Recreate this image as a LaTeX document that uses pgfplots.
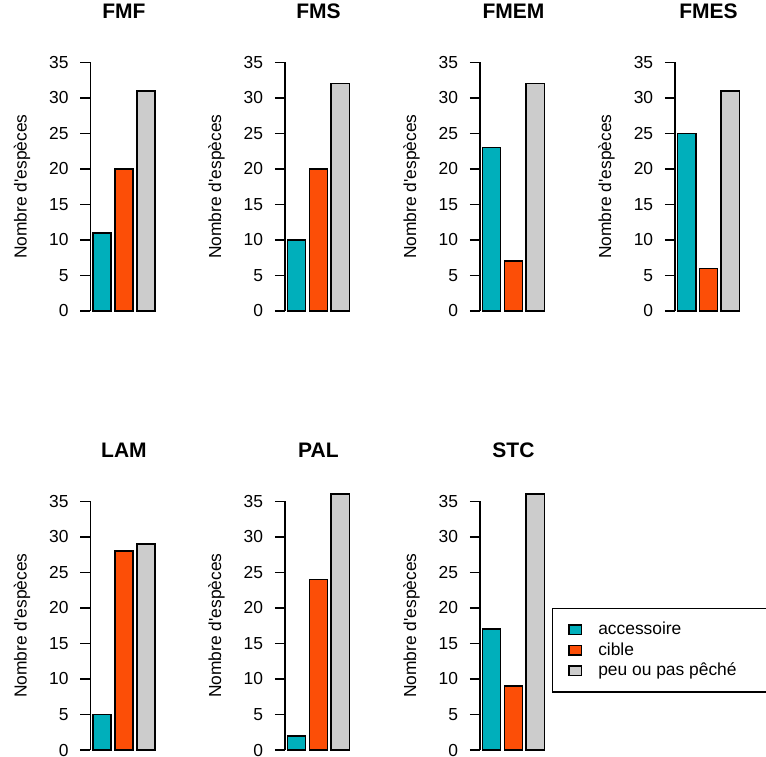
\documentclass[border=0pt]{standalone}
\usepackage{pgfplots}
\pgfplotsset{compat=1.18}
\usepackage{fontspec}
\setmainfont{Liberation Sans}[Ligatures=TeXOff]
\definecolor{cteal}{HTML}{00AFBB}
\definecolor{corange}{HTML}{FC4E07}
\definecolor{cgray}{HTML}{CCCCCC}
\pgfplotsset{
  panel/.style={
    scale only axis, width=33.56pt, height=124.35pt,
    xmin=0.06, xmax=3.74, ymin=0, ymax=35,
    axis x line=none, axis y line*=left,
    ytick={0,5,...,35}, tick align=outside, major tick length=5pt,
    every tick/.style={black, line width=0.8pt},
    axis line style={line width=0.8pt},
    clip=false, anchor=south west,
    /pgf/number format/assume math mode=true,
    tick label style={font=\fontsize{8.7}{10}\selectfont},
    yticklabel style={inner xsep=0pt, xshift=-5.7pt},
    ylabel={Nombre d'espèces},
    ylabel style={at={(axis description cs:-1.02,0.5)}, anchor=center, font=\fontsize{8.7}{10}\selectfont},
    title style={at={(axis description cs:0.5,1.155)}, anchor=center, font=\fontsize{10.5}{12}\selectfont\bfseries},
  },
  bars/.style={ybar, bar width=1, bar shift=0pt, draw=black, line width=0.8pt, area legend,
    legend image code/.code={\draw[##1, line width=0.7pt] (0pt,-2.4pt) rectangle (6.2pt,2.4pt);}},
}
\begin{document}
\begin{tikzpicture}
\useasboundingbox (0,0) rectangle (383pt,-378pt);
% top row
\begin{axis}[panel, at={(45.2pt,-155.5pt)}, title={FMF}]
\addplot[bars, fill=cteal] coordinates {(0.7,11)};
\addplot[bars, fill=corange] coordinates {(1.9,20)};
\addplot[bars, fill=cgray] coordinates {(3.1,31)};
\end{axis}
\begin{axis}[panel, at={(142.45pt,-155.5pt)}, title={FMS}]
\addplot[bars, fill=cteal] coordinates {(0.7,10)};
\addplot[bars, fill=corange] coordinates {(1.9,20)};
\addplot[bars, fill=cgray] coordinates {(3.1,32)};
\end{axis}
\begin{axis}[panel, at={(239.95pt,-155.5pt)}, title={FMEM}]
\addplot[bars, fill=cteal] coordinates {(0.7,23)};
\addplot[bars, fill=corange] coordinates {(1.9,7)};
\addplot[bars, fill=cgray] coordinates {(3.1,32)};
\end{axis}
\begin{axis}[panel, at={(337.45pt,-155.5pt)}, title={FMES}]
\addplot[bars, fill=cteal] coordinates {(0.7,25)};
\addplot[bars, fill=corange] coordinates {(1.9,6)};
\addplot[bars, fill=cgray] coordinates {(3.1,31)};
\end{axis}
% bottom row
\begin{axis}[panel, at={(45.2pt,-375pt)}, title={LAM}]
\addplot[bars, fill=cteal] coordinates {(0.7,5)};
\addplot[bars, fill=corange] coordinates {(1.9,28)};
\addplot[bars, fill=cgray] coordinates {(3.1,29)};
\end{axis}
\begin{axis}[panel, at={(142.45pt,-375pt)}, title={PAL}]
\addplot[bars, fill=cteal] coordinates {(0.7,2)};
\addplot[bars, fill=corange] coordinates {(1.9,24)};
\addplot[bars, fill=cgray] coordinates {(3.1,36)};
\end{axis}
\begin{axis}[panel, at={(239.95pt,-375pt)}, title={STC},
  legend style={at={(1.072,0.571)}, anchor=north west, draw=black, line width=0.6pt,
    inner xsep=8pt, inner ysep=6.5pt, column sep=8pt, row sep=1.9pt,
    font=\fontsize{8.7}{10}\selectfont,
    nodes={inner sep=0pt, text height=6.5pt, text depth=1.8pt}},
  legend cell align=left]
\addplot[bars, fill=cteal] coordinates {(0.7,17)};
\addplot[bars, fill=corange] coordinates {(1.9,9)};
\addplot[bars, fill=cgray] coordinates {(3.1,36)};
\legend{accessoire, cible, peu ou pas pêché\hspace*{45pt}}
\end{axis}
\end{tikzpicture}
\end{document}
